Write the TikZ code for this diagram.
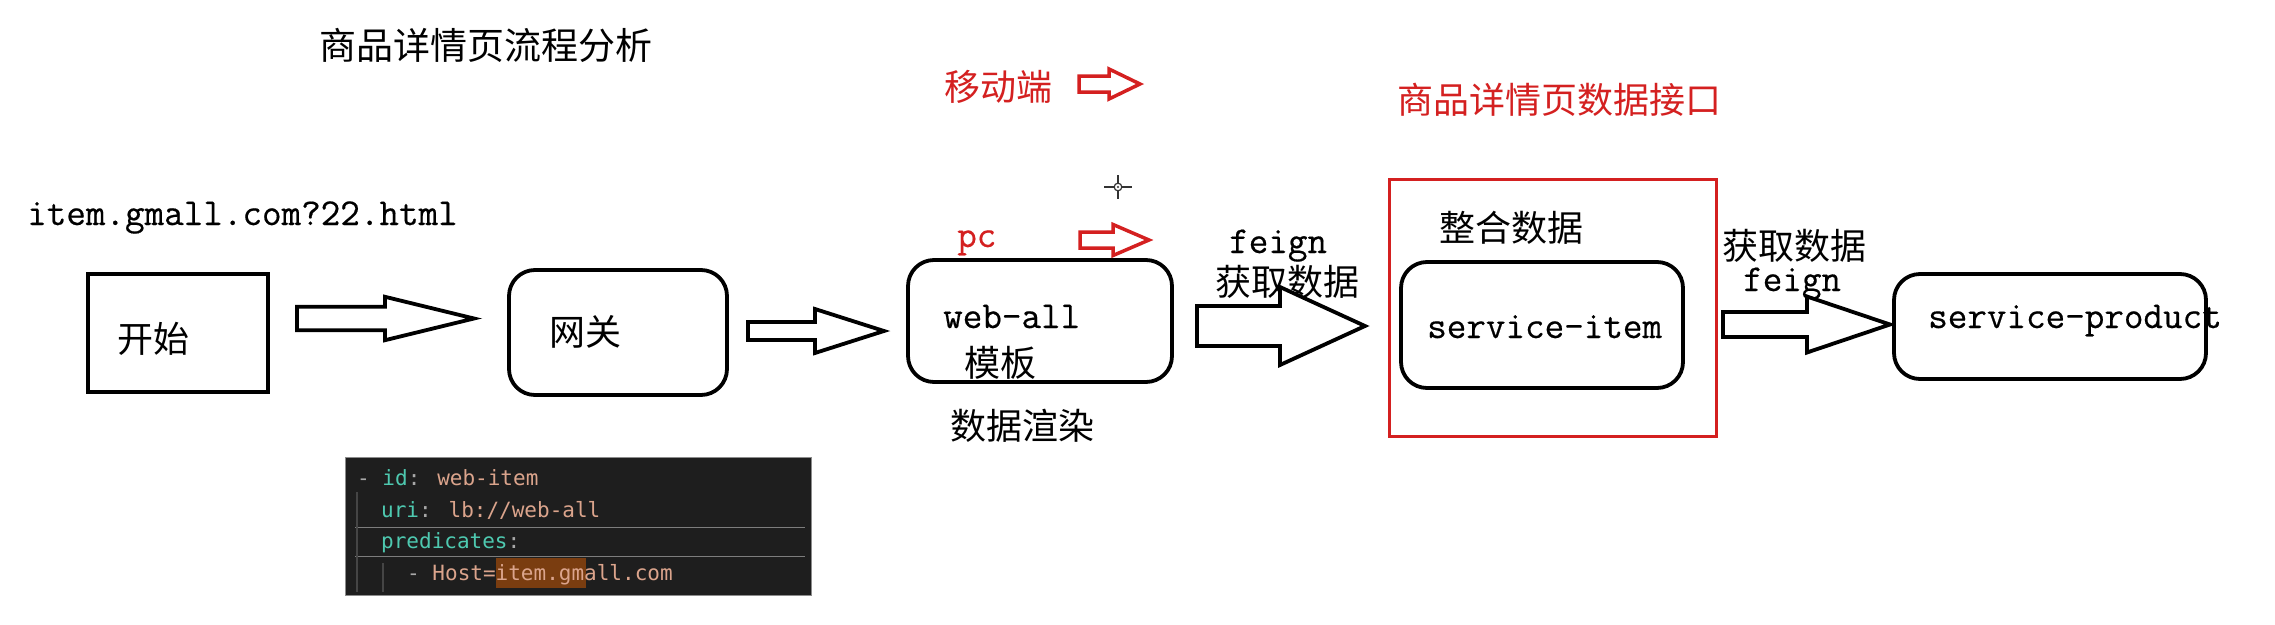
\documentclass[tikz,border=0pt]{standalone}
\usepackage{fontspec}
\usetikzlibrary{calc}
\newfontfamily\cjk{Noto Sans CJK SC}
\newfontfamily\mono{Latin Modern Mono}[FakeBold=0.45]
\newfontfamily\code{DejaVu Sans Mono}
\definecolor{redc}{HTML}{D42020}
\definecolor{keyc}{HTML}{4EC9B0}
\definecolor{valc}{HTML}{DBA48C}
\definecolor{dashc}{HTML}{A8A8A8}
\definecolor{bgc}{HTML}{1E1E1E}
\definecolor{hlc}{HTML}{7A3D10}
\definecolor{guidec}{HTML}{454545}
\newcommand\blockarrow[6]{%
  \draw[#1] let \p1=(#2), \p2=(#3) in
    (\x1,\y1+#5) -- (\x2-#4,\y1+#5) -- (\x2-#4,\y1+#6) -- (\x2,\y2)
    -- (\x2-#4,\y1-#6) -- (\x2-#4,\y1-#5) -- (\x1,\y1-#5) -- cycle;}
\tikzset{
  sqbox/.style={draw, line width=3.8pt, inner sep=0pt},
  rbox/.style={draw, line width=3.8pt, rounded corners=26pt, inner sep=0pt},
  redbox/.style={draw=redc, line width=3pt, inner sep=0pt},
  cn/.style={inner sep=0pt, font=\cjk\fontsize{36}{40}\selectfont},
  lat/.style={inner sep=0pt, anchor=base west, font=\mono\fontsize{38}{42}\selectfont},
  codetxt/.style={inner sep=0pt, anchor=base west, font=\code\fontsize{21}{24}\selectfont},
  bigarrow/.style={draw, line width=3.8pt, fill=white, line join=miter},
  redarrow/.style={draw=redc, line width=3.5pt, fill=white, line join=miter},
}
\begin{document}
\begin{tikzpicture}[x=1pt,y=-1pt]
\useasboundingbox[fill=white] (0,0) rectangle (2275,624);

% title and labels
\node[cn, font=\cjk\fontsize{37}{40}\selectfont] (title) at (486,45) {商品详情页流程分析};
\node[cn, text=redc] (mobile) at (998,87) {移动端};
\node[lat, text=redc] (pc) at (957,247) {pc};
\node[lat] (url) at (27,225) {item.gmall.com?22.html};
\node[cn, text=redc] (api) at (1559,100) {商品详情页数据接口};

% boxes
\node[redbox, minimum width=327pt, minimum height=257pt] (redframe) at (1552.5,307.5) {};
\node[sqbox, minimum width=180pt, minimum height=118pt] (start) at (178,333) {};
\node[rbox, minimum width=218pt, minimum height=125pt] (gw) at (618,332.5) {};
\node[rbox, minimum width=264pt, minimum height=122pt] (web) at (1040,321) {};
\node[rbox, minimum width=282pt, minimum height=126pt] (item) at (1542,325) {};
\node[rbox, minimum width=312pt, minimum height=105pt] (prod) at (2050,326.5) {};

% box texts
\node[cn] (starttxt) at (153,339) {开始};
\node[cn] (gwtxt) at (585,332) {网关};
\node[lat] (webtxt) at (943,328) {web-all};
\node[cn] (tpl) at (1000,363) {模板};
\node[cn] (render) at (1022,426) {数据渲染};
\node[cn] (merge) at (1511,228) {整合数据};
\node[lat] (itemtxt) at (1427,338) {service-item};
\node[lat] (prodtxt) at (1928,328) {service-product};

% arrow labels
\node[lat] (feign1) at (1229,253) {feign};
\node[cn] (get1) at (1287,282) {获取数据};
\node[cn] (get2) at (1794,246) {获取数据};
\node[lat] (feign2) at (1743,291) {feign};

% arrow end points
\coordinate (a1s) at (297,318.5);  \coordinate (a1e) at (474,318.5);
\coordinate (a2s) at (748,331);    \coordinate (a2e) at (884,331);
\coordinate (a3s) at (1197,326);   \coordinate (a3e) at (1365,326);
\coordinate (a4s) at (1723,324.5); \coordinate (a4e) at (1890,324.5);
\coordinate (r1s) at (1079,84);    \coordinate (r1e) at (1140,84);
\coordinate (r2s) at (1080,240);   \coordinate (r2e) at (1149,240);

\blockarrow{bigarrow}{a1s}{a1e}{89pt}{11.7pt}{21.7pt}
\blockarrow{bigarrow}{a2s}{a2e}{69pt}{9pt}{22pt}
\blockarrow{bigarrow}{a3s}{a3e}{85pt}{20pt}{39pt}
\blockarrow{bigarrow}{a4s}{a4e}{83pt}{12.5pt}{28pt}
\blockarrow{redarrow}{r1s}{r1e}{31pt}{8pt}{15pt}
\blockarrow{redarrow}{r2s}{r2e}{36pt}{8pt}{15.5pt}

% cursor crosshair
\coordinate (cur) at (1118,187);
\draw[line width=1.6pt, black!80] ($(cur)+(-14,0)$) -- ($(cur)+(-4,0)$)
  ($(cur)+(4,0)$) -- ($(cur)+(14,0)$)
  ($(cur)+(0,-12)$) -- ($(cur)+(0,-4)$)
  ($(cur)+(0,4)$) -- ($(cur)+(0,12)$);
\draw[line width=1.2pt, black!80] (cur) circle[radius=3.8pt];
\fill[black!80] (cur) circle[radius=1.2pt];

% code panel
\node[draw=black!45, line width=1pt, fill=bgc, minimum width=466pt, minimum height=138pt, inner sep=0pt] (panel) at (578,526) {};
\draw[guidec!70, line width=1pt] (355,527) -- (805,527) (355,556) -- (805,556);
\draw[guidec, line width=1.2pt] (357,492) -- (357,592) (383,563) -- (383,592);
\fill[hlc] (496,558) rectangle (586,588);
\node[codetxt] (l1) at (357,485) {\textcolor{dashc}{-} \textcolor{keyc}{id}\textcolor{dashc}{:} \textcolor{valc}{web-item}};
\node[codetxt] (l2) at (381,517) {\textcolor{keyc}{uri}\textcolor{dashc}{:} \textcolor{valc}{lb://web-all}};
\node[codetxt] (l3) at (381,548) {\textcolor{keyc}{predicates}\textcolor{dashc}{:}};
\node[codetxt] (l4) at (407,580) {\textcolor{dashc}{-} \textcolor{valc}{Host=item.gmall.com}};
\end{tikzpicture}
\end{document}
